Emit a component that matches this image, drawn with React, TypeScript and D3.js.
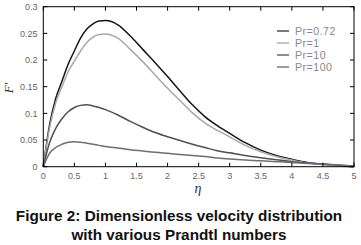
import React from "react";
import * as d3 from "d3";

const eta = [0, 0.1, 0.2, 0.3, 0.4, 0.5, 0.6, 0.7, 0.8, 0.9, 1.0, 1.2, 1.4, 1.6, 1.8, 2.0, 2.2, 2.4, 2.6, 2.8, 3.0, 3.25, 3.5, 3.75, 4.0, 4.25, 4.5, 4.75, 5.0];
const pr072 = [0, 0.078, 0.128, 0.16, 0.192, 0.217, 0.241, 0.258, 0.268, 0.273, 0.274, 0.266, 0.245, 0.22, 0.195, 0.169, 0.142, 0.116, 0.094, 0.077, 0.0625, 0.045, 0.031, 0.021, 0.014, 0.008, 0.0045, 0.002, 0];
const pr1 = [0, 0.072, 0.12, 0.15, 0.178, 0.198, 0.217, 0.233, 0.243, 0.248, 0.249, 0.241, 0.22, 0.197, 0.172, 0.147, 0.124, 0.101, 0.082, 0.068, 0.056, 0.04, 0.028, 0.019, 0.0125, 0.007, 0.004, 0.0015, 0];
const pr10 = [0, 0.045, 0.072, 0.09, 0.103, 0.111, 0.115, 0.116, 0.114, 0.111, 0.107, 0.097, 0.085, 0.074, 0.064, 0.056, 0.049, 0.042, 0.036, 0.03, 0.026, 0.021, 0.017, 0.013, 0.0095, 0.007, 0.005, 0.003, 0.001];
const pr100 = [0, 0.025, 0.036, 0.042, 0.046, 0.047, 0.046, 0.044, 0.042, 0.04, 0.038, 0.035, 0.032, 0.0295, 0.027, 0.025, 0.023, 0.021, 0.019, 0.0165, 0.0145, 0.0125, 0.011, 0.0095, 0.008, 0.006, 0.0045, 0.003, 0.0015];

const seriesNames = ["Pr=0.72", "Pr=1", "Pr=10", "Pr=100"];
const seriesData = [pr072, pr1, pr10, pr100];
const lineColors = ["#151515", "#a8a8a8", "#505050", "#6e6e6e"];
const legendColors = ["#7a7a7a", "#c4c4c4", "#8c8c8c", "#9c9c9c"];
const xTicks = [0, 0.5, 1, 1.5, 2, 2.5, 3, 3.5, 4, 4.5, 5];
const yTicks = [0, 0.05, 0.1, 0.15, 0.2, 0.25, 0.3];
const titleLines = ["Figure 2: Dimensionless velocity distribution", "with various Prandtl numbers"];

export default function App() {
  const W = 361, H = 245;
  const left = 43.3, right = 354, top = 6.7, bottom = 166.7;
  const x = d3.scaleLinear().domain([0, 5]).range([left, right]);
  const y = d3.scaleLinear().domain([0, 0.3]).range([bottom, top]);
  const line = d3.line<number>().x((_, i) => x(eta[i])).y((d) => y(d)).curve(d3.curveMonotoneX);
  const tickFont = "Arial, 'Liberation Sans', sans-serif";
  return (
    <div style={{ position: "fixed", left: 0, top: 0, width: W, height: H, background: "#fff" }}>
      <svg width={W} height={H} style={{ display: "block" }}>
        <rect width={W} height={H} fill="#fff" />
        {seriesData.map((s, i) => (
          <path key={i} d={line(s) || ""} fill="none" stroke={lineColors[i]} strokeWidth={1.5} />
        ))}
        <rect x={left} y={top} width={right - left} height={bottom - top} fill="none" stroke="#000" strokeWidth={1} />
        {xTicks.map((t) => (
          <g key={"x" + t}>
            <line x1={x(t)} x2={x(t)} y1={bottom} y2={bottom - 4} stroke="#000" />
            <line x1={x(t)} x2={x(t)} y1={top} y2={top + 4} stroke="#000" />
            <text x={x(t)} y={178.5} textAnchor="middle" fontSize={9} fill="#666" fontFamily={tickFont}>{String(t)}</text>
          </g>
        ))}
        {yTicks.map((t) => (
          <g key={"y" + t}>
            <line x1={left} x2={left + 4} y1={y(t)} y2={y(t)} stroke="#000" />
            <line x1={right} x2={right - 4} y1={y(t)} y2={y(t)} stroke="#000" />
            <text x={37.5} y={y(t) + 3.2} textAnchor="end" fontSize={9} fill="#666" fontFamily={tickFont}>{String(t)}</text>
          </g>
        ))}
        {seriesNames.map((n, i) => (
          <g key={n}>
            <line x1={277} x2={289} y1={31 + i * 12} y2={31 + i * 12} stroke={legendColors[i]} strokeWidth={2} />
            <text x={295} y={31 + i * 12 + 3.7} fontSize={10.6} letterSpacing={0.5} fill="#888" fontFamily={tickFont}>{n}</text>
          </g>
        ))}
        <text x={198} y={193} textAnchor="middle" fontSize={14} fontStyle="italic" fill="#333" fontFamily="'Liberation Serif', serif">η</text>
        <text transform="translate(13,88) rotate(-90)" textAnchor="middle" fontSize={13} fontStyle="italic" fill="#333" fontFamily="'Liberation Serif', serif">F'</text>
        {titleLines.map((t, i) => (
          <text key={i} x={179} y={220.5 + i * 19.5} textAnchor="middle" fontSize={15.3} fontWeight="bold" fill="#111" fontFamily={tickFont}>{t}</text>
        ))}
      </svg>
    </div>
  );
}
